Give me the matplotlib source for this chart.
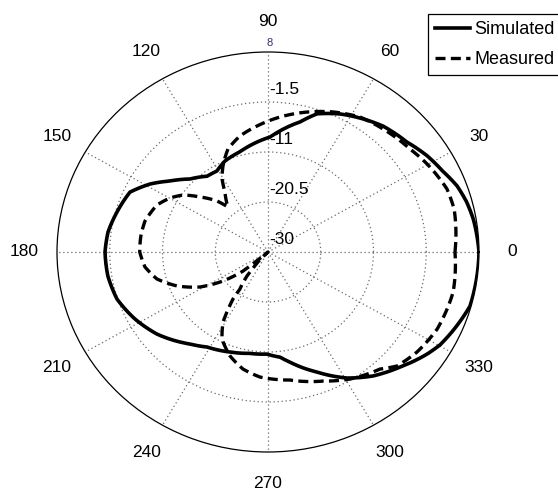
import numpy as np
import matplotlib
matplotlib.use('Agg')
import matplotlib.pyplot as plt
from matplotlib.transforms import offset_copy

# ---------------- data (angle in degrees, value in dB) ----------------
sim_theta = [0, 9.6, 15, 20.2, 26.1, 32.5, 39.8, 49.1, 63.7, 71.4, 76.8, 89,
             104.9, 114.1, 120.9, 127.3, 135.4, 142.6, 148.7, 155.4, 164.4,
             172.5, 180, 189, 198.2, 208, 218, 231.2, 238.7, 250.2, 260, 269.4,
             276.2, 280.7, 291.1, 300.7, 308.8, 317.4, 325.9, 330.3, 344.2, 360]
sim_db = [8.0, 7.5, 7.0, 6.3, 5.0, 4.0, 2.6, 1.65, -0.74, -2.3, -4.6, -8.15,
          -10.3, -11.05, -12.07, -11.9, -10.25, -7.8, -5.14, -2.66, -1.76,
          -0.94, -0.65, -0.8, -1.37, -2.87, -4.65, -7.57, -8.87, -9.8, -10.45, -10.6,
          -9.9, -8.7, -5.56, -2.15, 0.22, 2.3, 4.6, 5.65, 7.8, 8.0]

meas_theta = [0, 13.7, 20.4, 30.3, 37.4, 48.5, 57.1, 66.25, 75.2, 85.2, 94.7,
              102.9, 110.2, 116.4, 120.8, 124.2, 130.2, 133.5, 139.5, 144.7,
              149.8, 155.9, 165.1, 172.4, 180, 187.3, 194.4, 201.5, 208.5,
              214.2, 218.8, 220, 222, 229, 230.3, 234.3, 234.8, 238.7, 243.4,
              250.9, 258.6, 266.5, 279.2, 292, 301.5, 312.2, 317, 324.7,
              334.3, 343.8, 347.2, 360]
meas_db = [3.67, 4.5, 4.38, 3.17, 2.2, 1.23, 0.53, -0.93, -2.5, -4.27, -5.98,
           -7.39, -9.14, -11.76, -13.85, -16.2, -18.8, -16.6, -13.9, -11.25,
           -9.6, -8.1, -7.08, -6.9, -6.9, -7.66, -9.36, -12.4, -16.07,
           -20.2, -24.2, -28.8, -30.0, -25.8, -24.1, -21.3, -19.06, -14.4, -11.5,
           -9.1, -7.3, -6.2, -5.36, -3.55, -1.7, 0.02, 1.76, 2.88,
           3.8, 4.1, 4.2, 3.67]

ring_values = [-30, -20.5, -11, -1.5, 8]
ring_labels = ['-30', '-20.5', '-11', '-1.5', '8']
angle_ticks = list(range(0, 360, 30))
series_names = ['Simulated', 'Measured']

# ---------------- figure ----------------
plt.rcParams['font.family'] = ['Liberation Sans', 'DejaVu Sans']
fig = plt.figure(figsize=(5.58, 4.98), dpi=100)
ax = fig.add_axes([57 / 558, 46 / 498, 422 / 558, 400 / 498], projection='polar')
ax.set_aspect('auto')

rmin, rmax = ring_values[0], ring_values[-1]

l1, = ax.plot(np.deg2rad(sim_theta), sim_db, color='black', lw=2.6,
              label=series_names[0], zorder=5, solid_joinstyle='round')
l2, = ax.plot(np.deg2rad(meas_theta), meas_db, color='black', lw=2.4,
              linestyle=(0, (3.0, 1.6)), label=series_names[1], zorder=5)
# let the polar transform draw each segment as an arc in (theta, r)
for ln in (l1, l2):
    ln.get_path()._interpolation_steps = 16

ax.set_rlim(rmin, rmax)
ax.set_rticks(ring_values[1:-1])
ax.set_yticklabels([])
ax.set_thetagrids(angle_ticks, labels=[''] * len(angle_ticks))
ax.grid(True, color='#6a6a6a', linestyle=(0, (1, 2.2)), lw=0.9)
ax.spines['polar'].set_linewidth(0.9)
ax.spines['polar'].set_color('black')

# angle labels outside the circle
r_lab = rmin + (rmax - rmin) * 1.155
for a in angle_ticks:
    ax.text(np.deg2rad(a), r_lab, str(a), ha='center', va='center',
            fontsize=12.5, color='black', clip_on=False)

# radial labels along 90 deg
tr = offset_copy(ax.transData, fig=fig, x=1, y=13, units='dots')
for v, lab in zip(ring_values[:-1], ring_labels[:-1]):
    ax.text(np.pi / 2, v, lab, transform=tr, ha='left', va='center',
            fontsize=12.5, color='black', zorder=6)
tr8 = offset_copy(ax.transData, fig=fig, x=2, y=9, units='dots')
ax.text(np.pi / 2, ring_values[-1], ring_labels[-1], transform=tr8,
        ha='center', va='center', fontsize=8, color='#303070', clip_on=False)

leg = fig.legend(loc='upper left', bbox_to_anchor=(428 / 558, 1 - 14 / 498),
                 frameon=True, fancybox=False, edgecolor='black', framealpha=1,
                 borderaxespad=0, fontsize=13, handlelength=1.95,
                 handletextpad=0.2, borderpad=0.4, labelspacing=0.72)
leg.get_frame().set_linewidth(0.9)

fig.savefig('out.png', dpi=100)
